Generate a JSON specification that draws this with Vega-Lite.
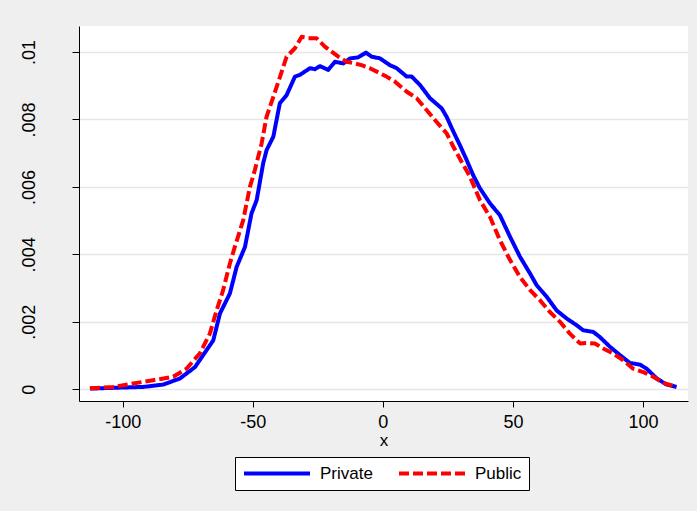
{
  "$schema": "https://vega.github.io/schema/vega-lite/v6.json",
  "autosize": "none",
  "width": 609,
  "height": 375,
  "padding": {"left": 79, "top": 26, "right": 9, "bottom": 110},
  "background": "#efefef",
  "config": {
    "view": {"fill": "white", "stroke": null},
    "font": "Liberation Sans",
    "axis": {
      "domainColor": "black", "domainWidth": 1, "tickColor": "black", "tickWidth": 1,
      "labelColor": "black", "labelFont": "Liberation Sans", "labelFontSize": 18,
      "titleFont": "Liberation Sans", "titleFontWeight": "normal", "titleColor": "black", "titleFontSize": 17
    }
  },
  "data": {"values": [
    {"g":"Private","x":-112.6,"y":0.00002},
    {"g":"Private","x":-101,"y":0.00005},
    {"g":"Private","x":-92.1,"y":0.00007},
    {"g":"Private","x":-84.4,"y":0.00014},
    {"g":"Private","x":-78.0,"y":0.00032},
    {"g":"Private","x":-72.2,"y":0.00066},
    {"g":"Private","x":-65.2,"y":0.00145},
    {"g":"Private","x":-62.6,"y":0.00225},
    {"g":"Private","x":-58.8,"y":0.00284},
    {"g":"Private","x":-56.2,"y":0.00363},
    {"g":"Private","x":-53.0,"y":0.00422},
    {"g":"Private","x":-50.5,"y":0.00521},
    {"g":"Private","x":-48.5,"y":0.00561},
    {"g":"Private","x":-46.0,"y":0.0067},
    {"g":"Private","x":-44.7,"y":0.00709},
    {"g":"Private","x":-42.1,"y":0.00749},
    {"g":"Private","x":-39.6,"y":0.00848},
    {"g":"Private","x":-37.0,"y":0.00872},
    {"g":"Private","x":-33.8,"y":0.00927},
    {"g":"Private","x":-31.9,"y":0.00932},
    {"g":"Private","x":-28.0,"y":0.00952},
    {"g":"Private","x":-26.1,"y":0.00949},
    {"g":"Private","x":-24.2,"y":0.00958},
    {"g":"Private","x":-21.0,"y":0.00947},
    {"g":"Private","x":-18.4,"y":0.00971},
    {"g":"Private","x":-15.2,"y":0.00966},
    {"g":"Private","x":-12.6,"y":0.00981},
    {"g":"Private","x":-9.5,"y":0.00984},
    {"g":"Private","x":-6.5,"y":0.00998},
    {"g":"Private","x":-4.3,"y":0.00986},
    {"g":"Private","x":-1.1,"y":0.00981},
    {"g":"Private","x":2.7,"y":0.00961},
    {"g":"Private","x":5.3,"y":0.00952},
    {"g":"Private","x":9.2,"y":0.00927},
    {"g":"Private","x":11.1,"y":0.00927},
    {"g":"Private","x":14.3,"y":0.00902},
    {"g":"Private","x":18.1,"y":0.00863},
    {"g":"Private","x":22.6,"y":0.00833},
    {"g":"Private","x":24.5,"y":0.00808},
    {"g":"Private","x":27.1,"y":0.00764},
    {"g":"Private","x":29.6,"y":0.00724},
    {"g":"Private","x":32.2,"y":0.0068},
    {"g":"Private","x":34.7,"y":0.00635},
    {"g":"Private","x":37.3,"y":0.00596},
    {"g":"Private","x":41.2,"y":0.00551},
    {"g":"Private","x":45.0,"y":0.00516},
    {"g":"Private","x":48.9,"y":0.00452},
    {"g":"Private","x":52.7,"y":0.00393},
    {"g":"Private","x":56.6,"y":0.00343},
    {"g":"Private","x":59.1,"y":0.00309},
    {"g":"Private","x":63.0,"y":0.00274},
    {"g":"Private","x":66.8,"y":0.00234},
    {"g":"Private","x":70.6,"y":0.0021},
    {"g":"Private","x":74.5,"y":0.0019},
    {"g":"Private","x":77.0,"y":0.00175},
    {"g":"Private","x":80.9,"y":0.0017},
    {"g":"Private","x":83.4,"y":0.00155},
    {"g":"Private","x":87.3,"y":0.00126},
    {"g":"Private","x":91.2,"y":0.00101},
    {"g":"Private","x":95.0,"y":0.00078},
    {"g":"Private","x":98.9,"y":0.00073},
    {"g":"Private","x":101.4,"y":0.00061},
    {"g":"Private","x":105.3,"y":0.00032},
    {"g":"Private","x":109.1,"y":0.00014},
    {"g":"Private","x":112.9,"y":0.00007},
    {"g":"Public","x":-112.6,"y":0.00003},
    {"g":"Public","x":-103.7,"y":0.00007},
    {"g":"Public","x":-96.0,"y":0.00017},
    {"g":"Public","x":-88.3,"y":0.00027},
    {"g":"Public","x":-80.6,"y":0.00037},
    {"g":"Public","x":-75.5,"y":0.00061},
    {"g":"Public","x":-70.4,"y":0.00106},
    {"g":"Public","x":-66.5,"y":0.00165},
    {"g":"Public","x":-63.9,"y":0.00234},
    {"g":"Public","x":-61.4,"y":0.00294},
    {"g":"Public","x":-58.8,"y":0.00373},
    {"g":"Public","x":-56.9,"y":0.00422},
    {"g":"Public","x":-53.7,"y":0.00501},
    {"g":"Public","x":-51.1,"y":0.006},
    {"g":"Public","x":-49.2,"y":0.0065},
    {"g":"Public","x":-46.6,"y":0.00729},
    {"g":"Public","x":-44.7,"y":0.00808},
    {"g":"Public","x":-42.1,"y":0.00867},
    {"g":"Public","x":-39.6,"y":0.00925},
    {"g":"Public","x":-37.0,"y":0.00986},
    {"g":"Public","x":-33.8,"y":0.01011},
    {"g":"Public","x":-31.2,"y":0.01045},
    {"g":"Public","x":-28.7,"y":0.01041},
    {"g":"Public","x":-25.5,"y":0.01041},
    {"g":"Public","x":-22.3,"y":0.01016},
    {"g":"Public","x":-19.7,"y":0.01001},
    {"g":"Public","x":-17.1,"y":0.00986},
    {"g":"Public","x":-13.9,"y":0.00971},
    {"g":"Public","x":-10.7,"y":0.00966},
    {"g":"Public","x":-8.2,"y":0.00961},
    {"g":"Public","x":-5.0,"y":0.00952},
    {"g":"Public","x":-1.1,"y":0.00937},
    {"g":"Public","x":1.4,"y":0.00927},
    {"g":"Public","x":4.7,"y":0.00912},
    {"g":"Public","x":9.2,"y":0.00882},
    {"g":"Public","x":13.0,"y":0.00863},
    {"g":"Public","x":16.8,"y":0.00828},
    {"g":"Public","x":20.6,"y":0.00793},
    {"g":"Public","x":24.5,"y":0.00759},
    {"g":"Public","x":27.1,"y":0.00719},
    {"g":"Public","x":30.3,"y":0.00674},
    {"g":"Public","x":33.5,"y":0.0063},
    {"g":"Public","x":37.3,"y":0.00561},
    {"g":"Public","x":41.2,"y":0.00511},
    {"g":"Public","x":45.0,"y":0.00442},
    {"g":"Public","x":48.9,"y":0.00383},
    {"g":"Public","x":52.7,"y":0.00333},
    {"g":"Public","x":56.6,"y":0.00294},
    {"g":"Public","x":60.4,"y":0.00264},
    {"g":"Public","x":64.2,"y":0.00229},
    {"g":"Public","x":68.1,"y":0.002},
    {"g":"Public","x":71.9,"y":0.00165},
    {"g":"Public","x":75.8,"y":0.00136},
    {"g":"Public","x":78.3,"y":0.00137},
    {"g":"Public","x":81.5,"y":0.00136},
    {"g":"Public","x":84.7,"y":0.00121},
    {"g":"Public","x":88.5,"y":0.00106},
    {"g":"Public","x":92.4,"y":0.00086},
    {"g":"Public","x":96.2,"y":0.00061},
    {"g":"Public","x":100.1,"y":0.00051},
    {"g":"Public","x":104.0,"y":0.00037},
    {"g":"Public","x":107.8,"y":0.00019},
    {"g":"Public","x":112.9,"y":0.00007}
  ]},
  "mark": {"type": "line", "strokeWidth": 4, "strokeCap": "butt", "strokeJoin": "round"},
  "encoding": {
    "x": {
      "field": "x", "type": "quantitative",
      "scale": {"domain": [-116.8, 117.3], "nice": false, "zero": false},
      "axis": {"values": [-100, -50, 0, 50, 100], "labelExpr": "'' + datum.value", "grid": false, "tickSize": 6, "labelPadding": 6, "title": "x", "titlePadding": 1}
    },
    "y": {
      "field": "y", "type": "quantitative",
      "scale": {"domain": [-0.000347, 0.01077], "nice": false, "zero": false},
      "axis": {
        "values": [0, 0.002, 0.004, 0.006, 0.008, 0.01],
        "labelExpr": "datum.value == 0 ? '0' : substring(format(datum.value, '~f'), 1)",
        "labelAngle": -90, "labelAlign": "center", "labelBaseline": "alphabetic",
        "labelPadding": 38, "tickSize": 7, "title": null,
        "grid": true, "gridColor": "#e6e6e6", "gridWidth": 1.5
      }
    },
    "color": {
      "field": "g", "type": "nominal",
      "scale": {"domain": ["Private", "Public"], "range": ["#0000ff", "#ff0000"]},
      "legend": {
        "title": null, "orient": "none", "legendX": 156, "legendY": 431, "direction": "horizontal",
        "fillColor": "white", "strokeColor": "black", "padding": 7, "clipHeight": 19,
        "symbolType": "stroke", "symbolSize": 4356, "symbolStrokeWidth": 4,
        "labelFontSize": 17, "labelFont": "Liberation Sans", "labelColor": "black", "labelOffset": 8, "columnPadding": 24
      }
    },
    "strokeDash": {
      "field": "g", "type": "nominal",
      "scale": {"domain": ["Private", "Public"], "range": [[1, 0], [10, 4]]},
      "legend": {
        "title": null, "orient": "none", "legendX": 156, "legendY": 431, "direction": "horizontal",
        "fillColor": "white", "strokeColor": "black", "padding": 7, "clipHeight": 19,
        "symbolType": "stroke", "symbolSize": 4356, "symbolStrokeWidth": 4,
        "labelFontSize": 17, "labelFont": "Liberation Sans", "labelColor": "black", "labelOffset": 8, "columnPadding": 24
      }
    }
  }
}
